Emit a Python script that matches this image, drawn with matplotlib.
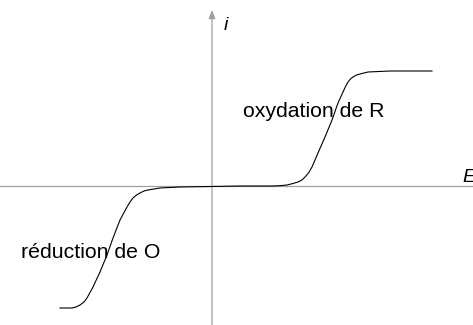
import matplotlib.pyplot as plt

plt.rcParams["font.family"] = ["Liberation Sans", "DejaVu Sans"]

# Current-potential curve i(E): reduction wave of O, then oxidation wave of R
potential = [
    -1.51, -1.39, -1.35, -1.31, -1.27, -1.24, -1.18, -1.11, -1.04, -0.98,
    -0.91, -0.84, -0.81, -0.78, -0.745, -0.71, -0.67, -0.63, -0.57, -0.51,
    -0.31, 0.00, 0.29, 0.62, 0.70, 0.76, 0.82, 0.87, 0.91, 0.94,
    0.975, 1.01, 1.07, 1.14, 1.21, 1.27, 1.32, 1.345, 1.37, 1.395,
    1.42, 1.455, 1.49, 1.57, 1.79, 2.21,
]
current = [
    -1.22, -1.22, -1.21, -1.19, -1.16, -1.12, -1.01, -0.86, -0.69, -0.52,
    -0.34, -0.21, -0.16, -0.12, -0.09, -0.07, -0.05, -0.04, -0.03, -0.02,
    -0.01, -0.005, 0.0, 0.0, 0.004, 0.01, 0.025, 0.04, 0.06, 0.09,
    0.13, 0.19, 0.33, 0.49, 0.66, 0.83, 0.94, 0.995, 1.04, 1.07,
    1.09, 1.11, 1.12, 1.14, 1.15, 1.15,
]

wave_labels = ["oxydation de R", "réduction de O"]
wave_label_pos = [(0.32, 0.69), (-1.90, -0.72)]

e_range = (-2.11, 2.62)
i_range = (-1.39, 1.86)
axis_grey = "#a0a0a0"

fig = plt.figure(figsize=(4.73, 3.25), dpi=100)
ax = fig.add_axes([0, 0, 1, 1])
ax.set_xlim(*e_range)
ax.set_ylim(*i_range)
ax.axis("off")

# axes of the diagram
ax.plot(e_range, [0, 0], color=axis_grey, linewidth=0.9, zorder=1)
ax.annotate(
    "",
    xy=(0.01, 1.76),
    xytext=(0.01, i_range[0]),
    arrowprops=dict(
        arrowstyle="-|>,head_length=0.5,head_width=0.2",
        color=axis_grey,
        linewidth=0.9,
        shrinkA=0,
        shrinkB=0,
    ),
    zorder=1,
)
ax.text(0.13, 1.56, "i", fontsize=14, style="italic", ha="left", va="baseline")
ax.text(2.51, 0.04, "E", fontsize=14, style="italic", ha="left", va="baseline")

ax.plot(potential, current, color="black", linewidth=0.8, zorder=2)

for label, (x, y) in zip(wave_labels, wave_label_pos):
    ax.text(x, y, label, fontsize=15.3, ha="left", va="baseline", zorder=3)

fig.savefig("out.png", dpi=100)
plt.close(fig)
